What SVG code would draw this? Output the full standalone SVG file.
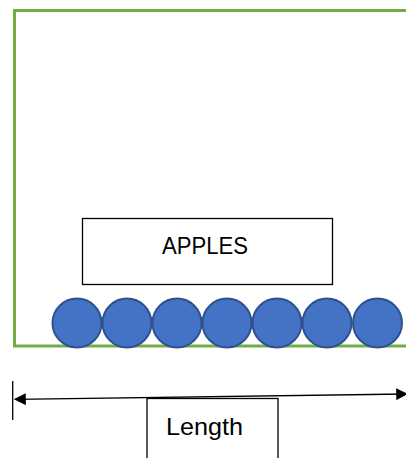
<svg xmlns="http://www.w3.org/2000/svg" width="406" height="458" viewBox="0 0 406 458">
<style>
.frame{fill:none;stroke:#70AD47;stroke-width:3}
.apple{fill:#4472C4;stroke:#2F528F;stroke-width:2}
.box{fill:#fff;stroke:#000;stroke-width:1.3}
.lbl{font-family:"Liberation Sans",Arial,sans-serif;font-size:24.5px;fill:#000;text-anchor:middle}
.conn{stroke:#000;stroke-width:1.3;fill:none}
</style>
<defs>
<marker id="ah" viewBox="0 0 10 10" refX="9" refY="5" markerWidth="17" markerHeight="12" markerUnits="userSpaceOnUse" orient="auto-start-reverse">
<path d="M0,0 L10,5 L0,10 z" fill="#000"/>
</marker>
</defs>
<rect width="406" height="458" fill="#fff"/>
<g id="container">
<path class="frame" d="M408,10.5 H14.5 V346 H408"/>
</g>
<g id="apples">
<circle class="apple" cx="77" cy="323" r="24.5"/>
<circle class="apple" cx="127" cy="323" r="24.5"/>
<circle class="apple" cx="177" cy="323" r="24.5"/>
<circle class="apple" cx="227" cy="323" r="24.5"/>
<circle class="apple" cx="277" cy="323" r="24.5"/>
<circle class="apple" cx="327" cy="323" r="24.5"/>
<circle class="apple" cx="377.5" cy="323" r="24.5"/>
</g>
<g id="apples-label">
<rect class="box" x="82.5" y="218.5" width="250" height="66"/>
<text class="lbl" x="205" y="254" textLength="86" lengthAdjust="spacingAndGlyphs">APPLES</text>
</g>
<g id="connectors">
<line class="conn" x1="12.7" y1="381" x2="12.7" y2="420"/>
<line class="conn" x1="15" y1="399.3" x2="407" y2="394" marker-start="url(#ah)" marker-end="url(#ah)"/>
</g>
<g id="length-label">
<rect class="box" x="147" y="398.5" width="131" height="70"/>
<text class="lbl" x="204.5" y="435" textLength="77" lengthAdjust="spacingAndGlyphs">Length</text>
</g>
</svg>
